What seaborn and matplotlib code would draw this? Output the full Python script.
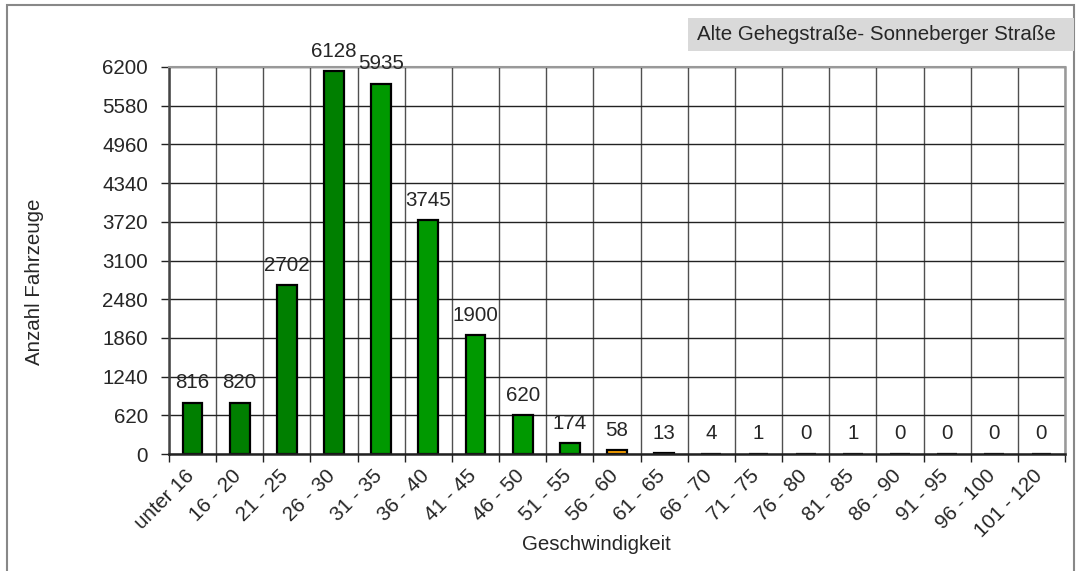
import matplotlib
matplotlib.use("Agg")
import matplotlib.pyplot as plt
import matplotlib.transforms as mtransforms
import seaborn as sns
import pandas as pd
from matplotlib.patches import Rectangle

categories = ["unter 16", "16 - 20", "21 - 25", "26 - 30", "31 - 35", "36 - 40",
              "41 - 45", "46 - 50", "51 - 55", "56 - 60", "61 - 65", "66 - 70",
              "71 - 75", "76 - 80", "81 - 85", "86 - 90", "91 - 95", "96 - 100",
              "101 - 120"]
counts = [816, 820, 2702, 6128, 5935, 3745, 1900, 620, 174, 58, 13, 4, 1, 0, 1, 0, 0, 0, 0]
bar_colors = ["#007F00"] * 4 + ["#009900"] * 5 + ["#FFA500"] + ["#009900"] * 9
yticks = list(range(0, 6201, 620))
title = "Alte Gehegstraße- Sonneberger Straße"

sns.set_theme(style="white")
plt.rcParams["font.family"] = ["Liberation Sans", "DejaVu Sans"]
FS = 14.8

df = pd.DataFrame({"cat": categories, "n": counts})

fig = plt.figure(figsize=(10.79, 5.71), dpi=100)
ax = fig.add_axes([169/1079, 1-454/571, (1065-169)/1079, (454-67)/571])

sns.barplot(data=df, x="cat", y="n", hue="cat", palette=bar_colors, legend=False,
            width=0.42, edgecolor="black", linewidth=1.6, saturation=1, ax=ax)

ax.set_ylim(0, 6200)
ax.set_xlim(-0.5, len(categories) - 0.5)
ax.set_yticks(yticks)
ax.set_yticklabels([str(v) for v in yticks], fontsize=FS)
for b in [i + 0.5 for i in range(-1, len(categories))]:
    ax.axvline(b, color="#505050", lw=1, zorder=0)
for y in yticks:
    ax.axhline(y, color="#222222", lw=1, zorder=0)
ax.set_axisbelow(True)

ax.set_xticks(range(len(categories)))
ax.set_xticklabels(categories, rotation=45, ha="right", fontsize=FS)
ax.set_xticks([i + 0.5 for i in range(-1, len(categories))], minor=True)
ax.tick_params(axis="x", length=0, pad=9)
ax.tick_params(axis="y", length=6, width=1, color="#222222", pad=9, left=True)
ax.tick_params(axis="x", which="minor", length=6, width=1, color="#222222", bottom=True)
shift = mtransforms.ScaledTranslation(5/100, 0, fig.dpi_scale_trans)
for lbl in ax.get_xticklabels():
    lbl.set_transform(lbl.get_transform() + shift)

for s in ax.spines.values():
    s.set_visible(True)
ax.spines["left"].set_color("#444444")
ax.spines["left"].set_linewidth(1.8)
ax.spines["bottom"].set_color("#222222")
ax.spines["bottom"].set_linewidth(1.8)
ax.spines["right"].set_color("#999999")
ax.spines["right"].set_linewidth(1.8)
ax.spines["top"].set_color("#999999")
ax.spines["top"].set_linewidth(1.5)

for i, v in enumerate(counts):
    ax.annotate(str(v), (i, v), xytext=(0, 10.5), textcoords="offset points",
                ha="center", va="baseline", fontsize=FS, annotation_clip=False)

ax.set_xlabel("")
ax.set_ylabel("")
fig.text(596/1079, 1-545/571, "Geschwindigkeit", ha="center", va="center", fontsize=FS)
fig.text(35/1079, 1-282/571, "Anzahl Fahrzeuge", ha="center", va="center",
         rotation=90, fontsize=FS)

fig.patches.append(Rectangle((7/1079, -0.1), (1074-7)/1079, 1.1 - 5/571, transform=fig.transFigure,
                             fill=False, edgecolor="#888888", lw=1.5))
fig.patches.append(Rectangle((688/1079, 1-51/571), (1074-688)/1079, 33/571, transform=fig.transFigure,
                             facecolor="#D9D9D9", edgecolor="none"))
fig.text(697/1079, 1-35/571, title, ha="left", va="center", fontsize=FS)

fig.savefig("out.png", dpi=100)
